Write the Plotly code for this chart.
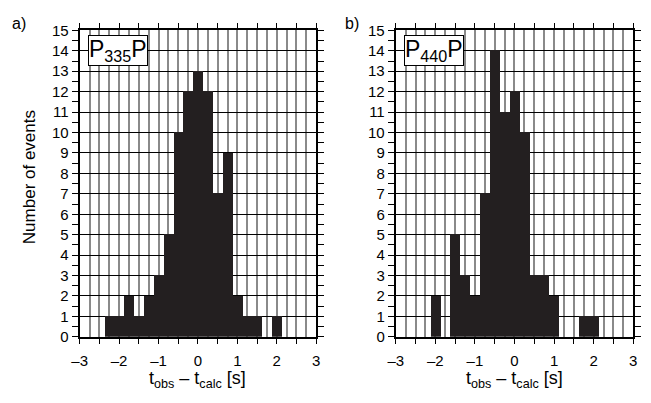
import plotly.graph_objects as go

# Histogram bin centres (s) and counts for the two phases
bin_centers = [-2.25, -2.0, -1.75, -1.5, -1.25, -1.0, -0.75, -0.5, -0.25,
               0.0, 0.25, 0.5, 0.75, 1.0, 1.25, 1.5, 1.75, 2.0]
counts_p335p = [1, 1, 2, 1, 2, 3, 5, 10, 12, 13, 12, 7, 9, 2, 1, 1, 0, 1]
counts_p440p = [0, 2, 0, 5, 3, 2, 7, 14, 11, 12, 10, 3, 3, 2, 0, 0, 1, 1]
bin_width = 0.25

x_tickvals = [-3, -2, -1, 0, 1, 2, 3]
x_ticktext = ["–3", "–2", "–1", "0", "1", "2", "3"]
y_tickvals = list(range(0, 16))

W, H = 651, 403
FONT = "Liberation Sans, Arial, Helvetica, sans-serif"
BAR = "#231f20"
GRID = "#8a8a8a"

# plot frame positions in pixels
left_px = (73, 314)
right_px = (395, 637)
top_px, bot_px = 22.3, 342.3


def xdom(px):
    return [px[0] / W, px[1] / W]


ydom = [1 - bot_px / H, 1 - top_px / H]

fig = go.Figure()
fig.add_trace(go.Bar(x=bin_centers, y=counts_p335p, width=bin_width,
                     marker=dict(color=BAR, line=dict(width=0)),
                     xaxis="x", yaxis="y", showlegend=False))
fig.add_trace(go.Bar(x=bin_centers, y=counts_p440p, width=bin_width,
                     marker=dict(color=BAR, line=dict(width=0)),
                     xaxis="x2", yaxis="y2", showlegend=False))
# empty traces so the half-unit tick axes get drawn
fig.add_trace(go.Scatter(x=[], y=[], xaxis="x3", yaxis="y", showlegend=False))
fig.add_trace(go.Scatter(x=[], y=[], xaxis="x4", yaxis="y2", showlegend=False))

xaxis_style = dict(
    range=[-3, 3], tickmode="array", tickvals=x_tickvals, ticktext=x_ticktext,
    ticks="outside", ticklen=5, tickwidth=1, tickcolor="black",
    ticklabelstandoff=4,
    showgrid=True, gridcolor=GRID, gridwidth=1.5,
    minor=dict(dtick=0.25, tick0=0, showgrid=True, gridcolor=GRID,
               gridwidth=1.5, ticks=""),
    showline=True, linecolor="black", linewidth=2, mirror="allticks",
    zeroline=False, tickfont=dict(family=FONT, size=15, color="black"),
    fixedrange=True,
)
# overlay axes carrying the unlabeled ticks at every 0.5 s
xtick_style = dict(
    range=[-3, 3], tickmode="linear", tick0=0, dtick=0.5,
    ticks="outside", ticklen=5, tickwidth=1, tickcolor="black",
    showticklabels=False, showgrid=False, zeroline=False,
    showline=True, linecolor="black", linewidth=2, mirror="allticks",
    fixedrange=True,
)
yaxis_style = dict(
    range=[0, 15], tickmode="array", tickvals=y_tickvals,
    ticks="outside", ticklen=6, tickwidth=1, tickcolor="black",
    showgrid=True, gridcolor="black", gridwidth=1,
    minor=dict(dtick=0.5, tick0=0, ticks="outside", ticklen=3,
               tickcolor="black", showgrid=False),
    showline=True, linecolor="black", linewidth=2, mirror="allticks",
    zeroline=False, tickfont=dict(family=FONT, size=15, color="black"),
    domain=ydom, fixedrange=True,
)

fig.update_layout(
    width=W, height=H,
    margin=dict(l=0, r=0, t=0, b=0),
    paper_bgcolor="white", plot_bgcolor="white",
    bargap=0,
    xaxis=dict(xaxis_style, domain=xdom(left_px), anchor="y"),
    yaxis=dict(yaxis_style, anchor="x"),
    xaxis2=dict(xaxis_style, domain=xdom(right_px), anchor="y2"),
    yaxis2=dict(yaxis_style, anchor="x2"),
    xaxis3=dict(xtick_style, domain=xdom(left_px), anchor="y", overlaying="x"),
    xaxis4=dict(xtick_style, domain=xdom(right_px), anchor="y2", overlaying="x2"),
    font=dict(family=FONT, color="black"),
)

# panel letters
fig.add_annotation(text="a)", x=2 / W, y=1 - 15 / H, xref="paper", yref="paper",
                   xanchor="left", yanchor="middle", showarrow=False,
                   font=dict(size=16, family=FONT))
fig.add_annotation(text="b)", x=341 / W, y=1 - 15 / H, xref="paper", yref="paper",
                   xanchor="left", yanchor="middle", showarrow=False,
                   font=dict(size=16, family=FONT))

# y axis title (shared)
fig.add_annotation(text="Number of events", x=22 / W, y=1 - 176 / H,
                   xref="paper", yref="paper", textangle=-90,
                   xanchor="center", yanchor="middle", showarrow=False,
                   font=dict(size=17, family=FONT))

# x axis titles
for cx in [(left_px[0] + left_px[1]) / 2, (right_px[0] + right_px[1]) / 2]:
    fig.add_annotation(text="t<sub>obs</sub> – t<sub>calc</sub> [s]",
                       x=cx / W, y=1 - 387 / H, xref="paper", yref="paper",
                       xanchor="center", yanchor="middle", showarrow=False,
                       font=dict(size=18, family=FONT))

# phase labels in boxes
for xr, yr, label in [("x domain", "y domain", "P<sub>335</sub>P"),
                      ("x2 domain", "y2 domain", "P<sub>440</sub>P")]:
    fig.add_annotation(text=label, x=8 / 241, y=1 - 5 / 320, xref=xr, yref=yr,
                       xanchor="left", yanchor="top", showarrow=False,
                       bgcolor="white", bordercolor="black", borderwidth=1,
                       borderpad=0, font=dict(size=23, family=FONT))

fig.write_html("out.html")
